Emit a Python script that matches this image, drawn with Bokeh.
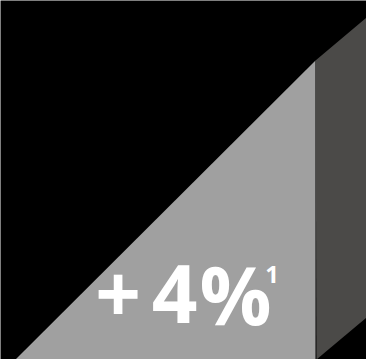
from bokeh.plotting import figure
from bokeh.models import Range1d
from bokeh.embed import file_html
from bokeh.resources import INLINE
from bokeh.core.properties import value

# Data: a single growth figure shown as a rising ramp
growth_parts = ["+", "4", "%"]
footnote = ["1"]
# ramp faces (canvas units, 366 x 359, origin bottom-left)
front_x = [15, 315, 315]
front_y = [0, 299, 0]
side_x = [315, 366, 366, 316]
side_y = [299, 342, 42, 0]

# layout of the label glyphs
part_x = [117.5, 174, 235]
part_y = [66, 66, 66]

W, H = 366, 359
p = figure(width=W, height=H, output_backend="svg", toolbar_location=None,
           x_range=Range1d(0, W), y_range=Range1d(0, H), min_border=0)
p.axis.visible = False
p.grid.visible = False
p.outline_line_color = None
p.background_fill_color = "#000000"
p.border_fill_color = "#000000"

p.patch(front_x, front_y, fill_color="#a0a0a0", line_color=None)
p.patch(side_x, side_y, fill_color="#4b4a48", line_color=None)

p.text(x=part_x, y=part_y, text=growth_parts, text_color="white",
       text_font=value("Open Sans"), text_font_style="bold",
       text_font_size="80px", text_baseline="alphabetic", text_align="center")
p.text(x=[271.5], y=[85], text=footnote, text_color="white",
       text_font=value("Open Sans"), text_font_style="bold",
       text_font_size="24px", text_baseline="alphabetic", text_align="center")

html = file_html(p, INLINE)
html = html.replace("<body>", '<body style="margin:0;background:#000;overflow:hidden">', 1)
open("out.html", "w").write(html)
